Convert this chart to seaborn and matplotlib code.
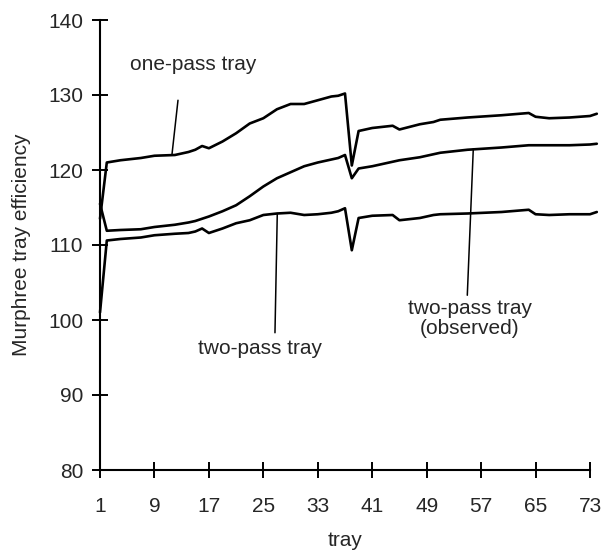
import matplotlib
matplotlib.use("Agg")
import matplotlib.pyplot as plt
import seaborn as sns
import pandas as pd

# values
trays = [1, 2, 4, 7, 9, 12, 14, 15, 16, 17, 19, 21, 23, 25, 27, 29, 31, 33, 35, 36,
         37, 38, 39, 41, 44, 45, 48, 50, 51, 55, 60, 64, 65, 67, 70, 73, 74]

one_pass = [113.5, 121.0, 121.3, 121.6, 121.9, 122.0, 122.4, 122.7, 123.2, 122.9,
            123.8, 124.9, 126.2, 126.9, 128.1, 128.8, 128.8, 129.3, 129.8, 129.9,
            130.2, 120.6, 125.2, 125.6, 125.9, 125.4, 126.1, 126.4, 126.7, 127.0,
            127.3, 127.6, 127.1, 126.9, 127.0, 127.2, 127.5]

two_pass_observed = [115.5, 111.9, 112.0, 112.1, 112.4, 112.7, 113.0, 113.2, 113.5, 113.8,
                     114.5, 115.3, 116.5, 117.8, 118.9, 119.7, 120.5, 121.0, 121.4, 121.6,
                     122.0, 118.9, 120.2, 120.5, 121.1, 121.3, 121.7, 122.1, 122.3, 122.7,
                     123.0, 123.3, 123.3, 123.3, 123.3, 123.4, 123.5]

two_pass = [101.0, 110.6, 110.8, 111.0, 111.3, 111.5, 111.6, 111.8, 112.2, 111.6,
            112.2, 112.9, 113.3, 114.0, 114.2, 114.3, 114.0, 114.1, 114.3, 114.5,
            114.9, 109.3, 113.6, 113.9, 114.0, 113.3, 113.6, 114.0, 114.1, 114.2,
            114.4, 114.7, 114.1, 114.0, 114.1, 114.1, 114.4]

x_ticks = [1, 9, 17, 25, 33, 41, 49, 57, 65, 73]
y_ticks = [80, 90, 100, 110, 120, 130, 140]

df = pd.DataFrame({"tray": trays, "one-pass": one_pass,
                   "observed": two_pass_observed, "two-pass": two_pass})

sns.set_style("ticks")
plt.rcParams["font.family"] = ["Liberation Sans", "DejaVu Sans"]

fig = plt.figure(figsize=(6.04, 5.59), dpi=100)
ax = fig.add_axes([100 / 604, 1 - 470 / 559, 490 / 604, 450 / 559])

for col in ["one-pass", "observed", "two-pass"]:
    sns.lineplot(data=df, x="tray", y=col, ax=ax, color="black", linewidth=1.9,
                 clip_on=False, solid_joinstyle="round")

# leader lines and labels
ax.plot([12.46, 11.58], [129.3, 122.1], color="black", linewidth=1.1)
ax.plot([27.05, 26.71], [114.2, 98.3], color="black", linewidth=1.1)
ax.plot([55.85, 54.97], [122.8, 103.3], color="black", linewidth=1.1)

ax.text(14.7, 134.0, "one-pass tray", fontsize=15, ha="center", va="center")
ax.text(24.5, 96.2, "two-pass tray", fontsize=15, ha="center", va="center")
ax.text(55.3, 100.2, "two-pass tray\n(observed)", fontsize=15, ha="center",
        va="center", linespacing=1.0)

ax.set_xlim(1, 73)
ax.set_ylim(80, 140)
ax.set_xticks(x_ticks)
ax.set_yticks(y_ticks)
ax.tick_params(direction="inout", length=11, width=1.4, labelsize=15, color="black")
ax.tick_params(axis="x", pad=14)
ax.tick_params(axis="y", pad=6.5)
for side in ["top", "right"]:
    ax.spines[side].set_visible(False)
for side in ["left", "bottom"]:
    ax.spines[side].set_linewidth(1.5)
    ax.spines[side].set_color("black")

ax.set_xlabel("tray", fontsize=15)
ax.set_ylabel("Murphree tray efficiency", fontsize=15)
ax.xaxis.set_label_coords(0.5, -0.135)
ax.yaxis.set_label_coords(-0.14, 0.5)

fig.savefig("out.png", dpi=100)
